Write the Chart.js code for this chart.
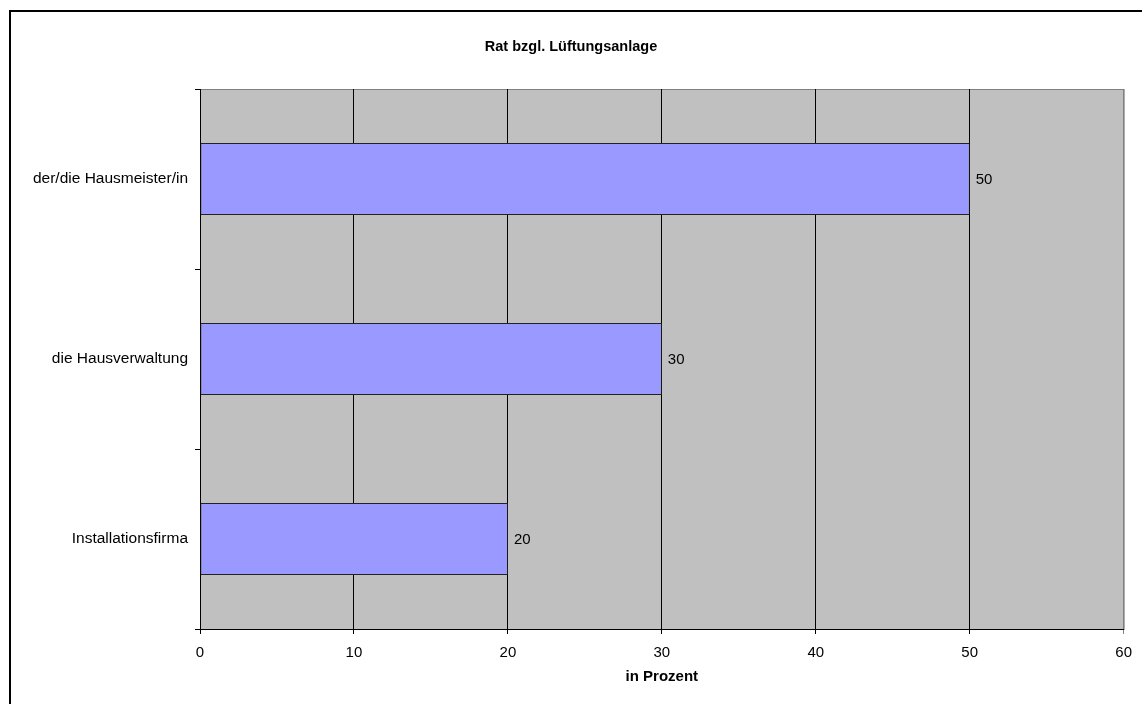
<!DOCTYPE html>
<html>
<head>
<meta charset="utf-8">
<script src="https://cdn.jsdelivr.net/npm/chart.js@4/dist/chart.umd.min.js"></script>
<style>
  html, body { margin: 0; padding: 0; background: #fff; }
  #wrap { width: 1142px; height: 704px; }
</style>
</head>
<body>
<div id="wrap"><canvas id="ratChart"></canvas></div>
<script>
var categories = ['der/die Hausmeister/in', 'die Hausverwaltung', 'Installationsfirma'];
var values = [50, 30, 20];
var xTicks = [0, 10, 20, 30, 40, 50, 60];
var chartTitle = 'Rat bzgl. Lüftungsanlage';

var fontFamily = '"Liberation Sans", Arial, sans-serif';

// gray plot area, outer frame and the title (centred on the whole picture)
var backgroundPlugin = {
    id: 'plotBackground',
    beforeDraw: function (chart) {
        var ctx = chart.ctx;
        var a = chart.chartArea;
        ctx.save();
        ctx.fillStyle = '#fff';
        ctx.fillRect(0, 0, chart.width, chart.height);
        ctx.fillStyle = '#C0C0C0';
        ctx.fillRect(a.left, a.top, a.right - a.left, a.bottom - a.top);
        ctx.strokeStyle = '#808080';
        ctx.lineWidth = 1;
        ctx.strokeRect(a.left + 0.5, a.top + 0.5, a.right - a.left, a.bottom - a.top);
        // frame
        ctx.strokeStyle = '#000';
        ctx.lineWidth = 2;
        ctx.beginPath();
        ctx.moveTo(10, chart.height);
        ctx.lineTo(10, 11);
        ctx.lineTo(chart.width, 11);
        ctx.stroke();
        // title
        ctx.fillStyle = '#000';
        ctx.font = 'bold 14.5px ' + fontFamily;
        ctx.textAlign = 'center';
        ctx.textBaseline = 'middle';
        ctx.fillText(chartTitle, chart.width / 2, 47);
        ctx.restore();
    }
};

var valueLabelPlugin = {
    id: 'valueLabels',
    afterDatasetsDraw: function (chart) {
        var ctx = chart.ctx;
        var meta = chart.getDatasetMeta(0);
        ctx.save();
        ctx.font = '15px ' + fontFamily;
        ctx.fillStyle = '#000';
        ctx.textAlign = 'left';
        ctx.textBaseline = 'middle';
        meta.data.forEach(function (bar, i) {
            ctx.fillText(String(values[i]), bar.x + 6, bar.y + 1);
        });
        ctx.restore();
    }
};

var ctx = document.getElementById('ratChart').getContext('2d');
var ratChart = new Chart(ctx, {
    type: 'bar',
    data: {
        labels: categories,
        datasets: [{
            label: 'Rat',
            data: values,
            backgroundColor: '#9999FF',
            borderColor: '#222',
            borderWidth: 1,
            borderSkipped: false,
            barPercentage: 0.4,
            categoryPercentage: 1.0
        }]
    },
    options: {
        indexAxis: 'y',
        responsive: true,
        maintainAspectRatio: false,
        animation: false,
        layout: {
            padding: { top: 89, right: 16, bottom: 0, left: 0 }
        },
        plugins: {
            legend: { display: false },
            tooltip: { enabled: false },
            title: { display: false }
        },
        scales: {
            x: {
                min: 0,
                max: 60,
                afterFit: function (scale) { scale.height = 75; },
                afterBuildTicks: function (scale) {
                    scale.ticks = xTicks.map(function (v) { return { value: v }; });
                },
                ticks: {
                    color: '#000',
                    font: { family: fontFamily, size: 15 },
                    padding: 10,
                    maxRotation: 0
                },
                grid: {
                    color: function (c) { return c.tick && c.tick.value === 60 ? '#808080' : '#000'; },
                    lineWidth: 1,
                    tickLength: 5
                },
                border: { display: true, color: '#000', width: 1 },
                title: {
                    display: true,
                    text: 'in Prozent',
                    color: '#000',
                    font: { family: fontFamily, size: 15, weight: 'bold' },
                    padding: { top: 0, bottom: 18 }
                }
            },
            y: {
                afterFit: function (scale) { scale.width = 200; },
                ticks: {
                    color: '#000',
                    font: { family: fontFamily, size: 15.5 },
                    padding: 7
                },
                grid: {
                    offset: true,
                    drawOnChartArea: false,
                    color: '#000',
                    tickLength: 5
                },
                border: { display: true, color: '#000', width: 1 }
            }
        }
    },
    plugins: [backgroundPlugin, valueLabelPlugin]
});
</script>
</body>
</html>
